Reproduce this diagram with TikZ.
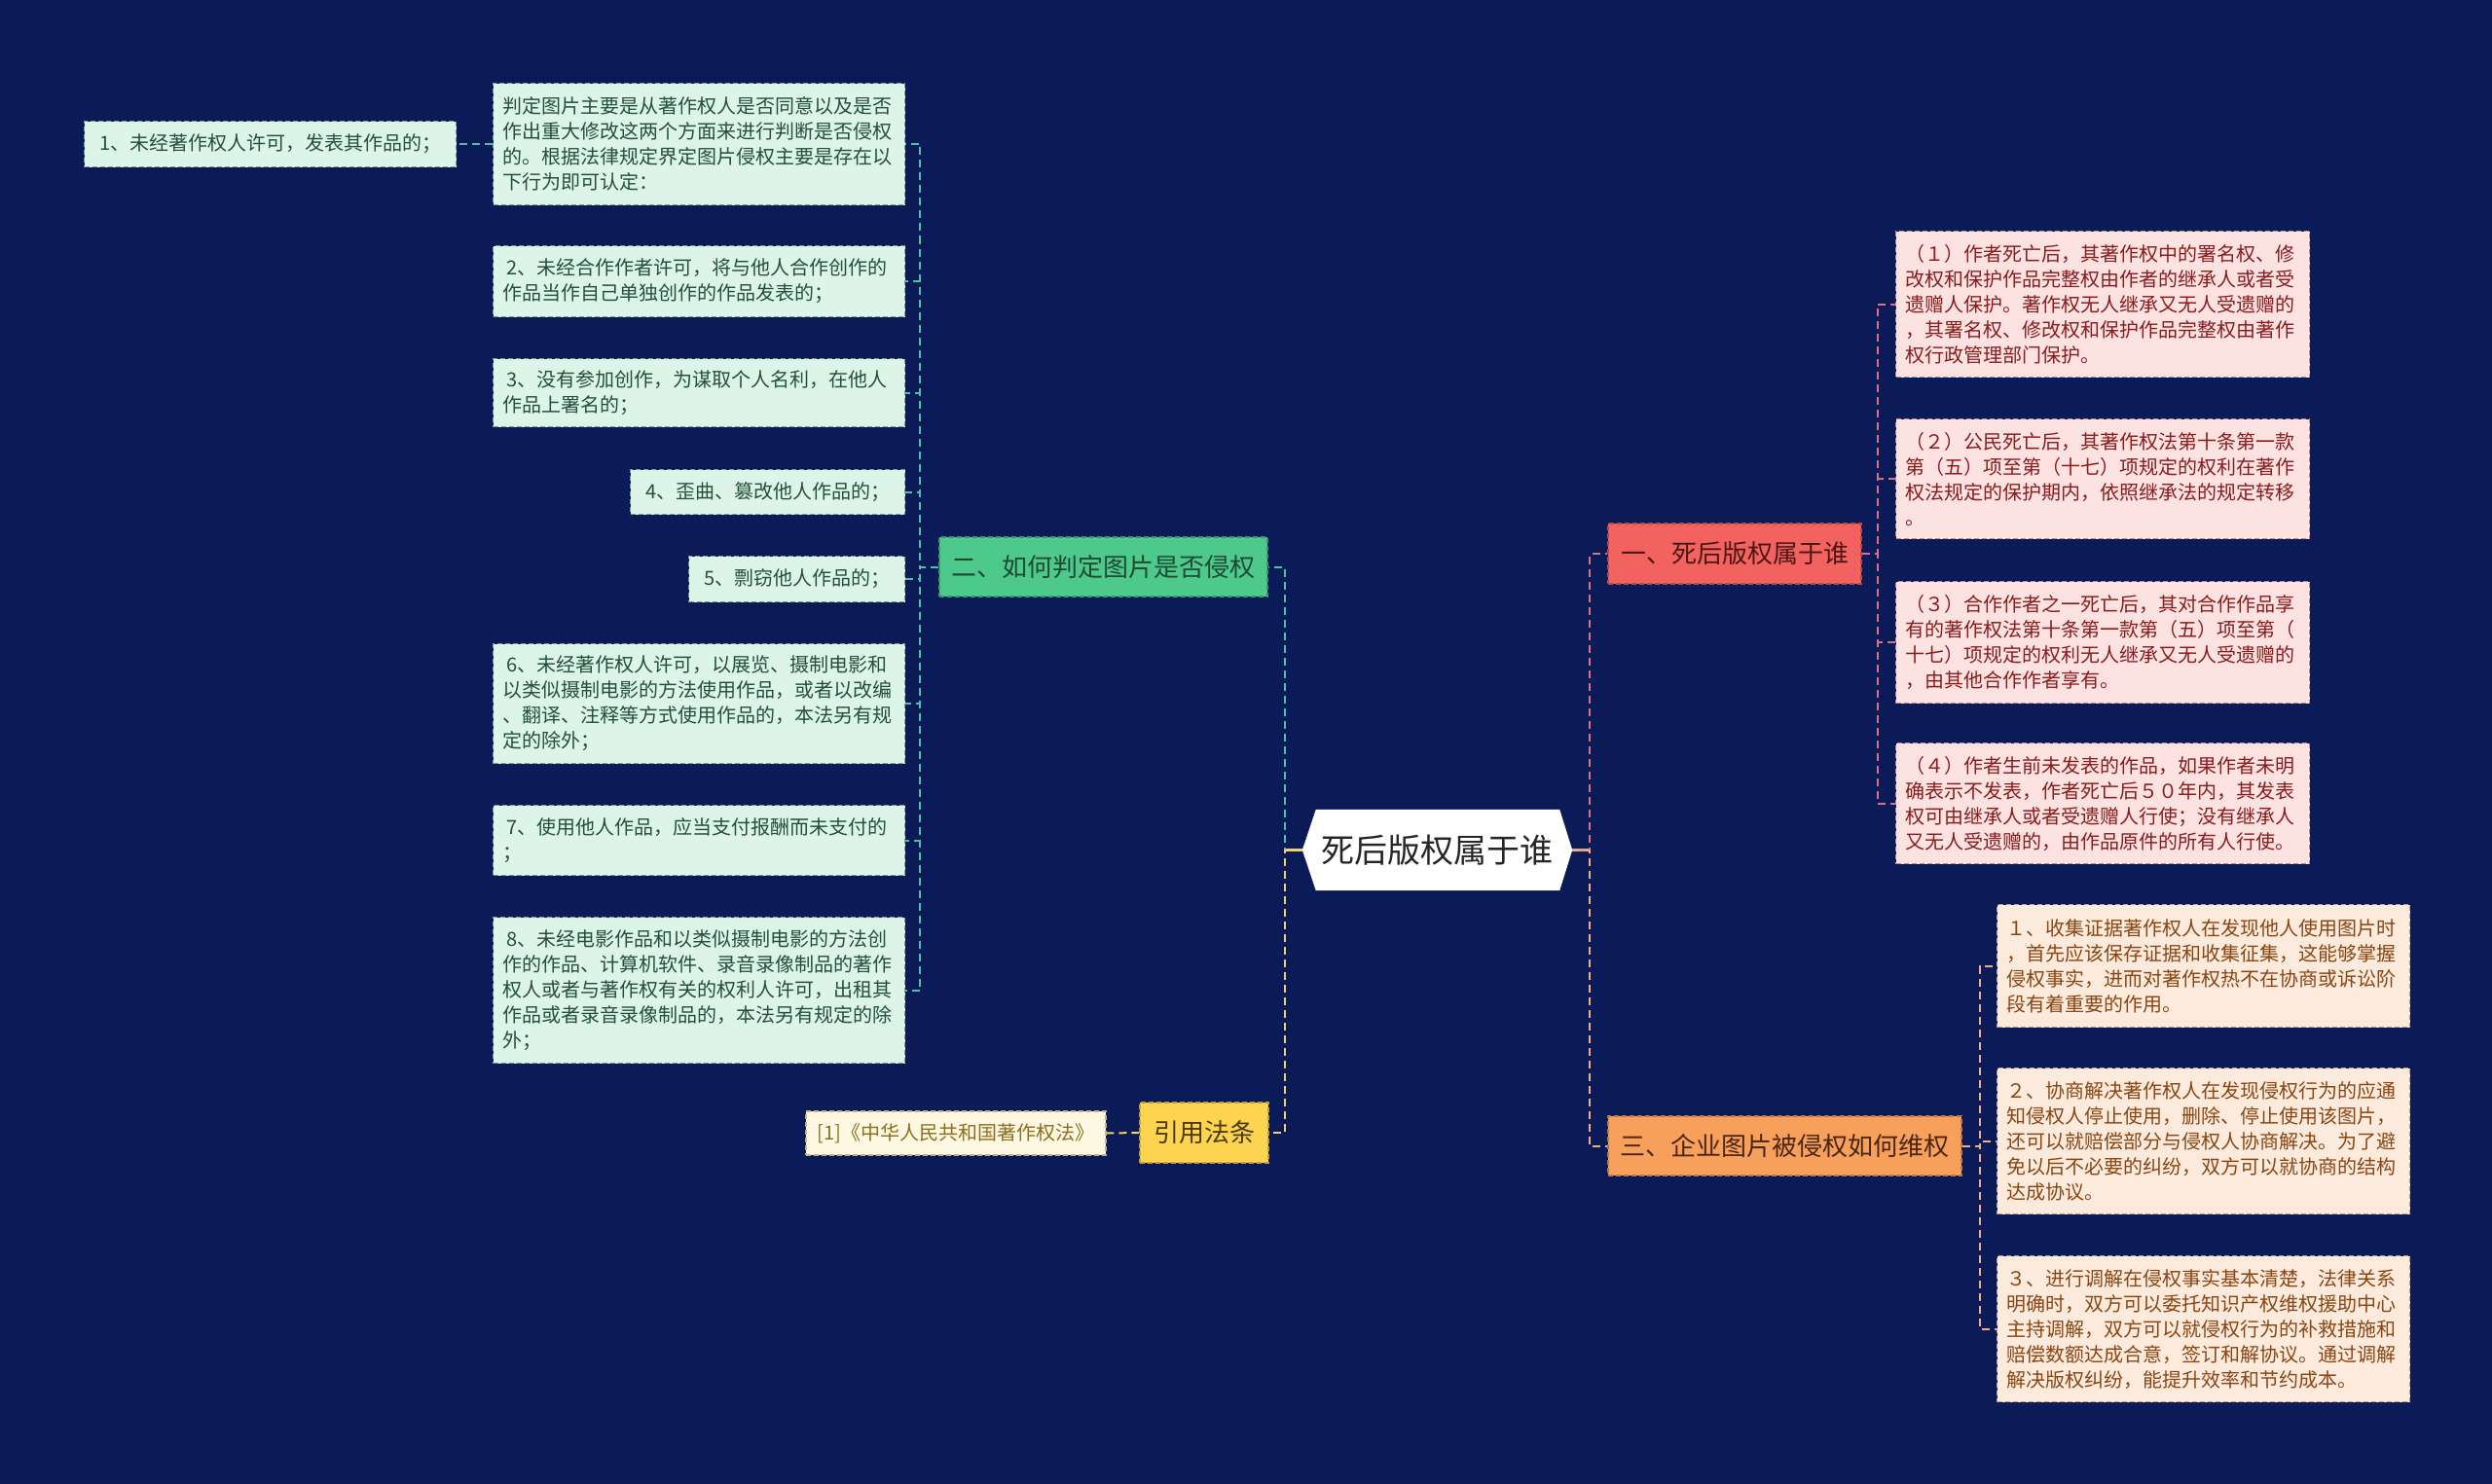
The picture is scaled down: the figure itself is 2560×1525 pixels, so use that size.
\documentclass[tikz,border=0pt]{standalone}
\usepackage{fontspec}
\setmainfont{Noto Sans CJK SC}
\usetikzlibrary{calc}
\definecolor{bg}{HTML}{0A1B57}
\definecolor{gfill}{HTML}{DDF5E9}
\definecolor{gtext}{HTML}{24503A}
\definecolor{gborder}{HTML}{7F9A90}
\definecolor{gnode}{HTML}{4DC98C}
\definecolor{gnodetext}{HTML}{1E4A33}
\definecolor{gline}{HTML}{4EC2A6}
\definecolor{rfill}{HTML}{FDE2E2}
\definecolor{rtext}{HTML}{8A1C1C}
\definecolor{rborder}{HTML}{B88C98}
\definecolor{rnode}{HTML}{F2625F}
\definecolor{rnodetext}{HTML}{4D1616}
\definecolor{rline}{HTML}{DC6E86}
\definecolor{ofill}{HTML}{FCEBDC}
\definecolor{otext}{HTML}{8A4512}
\definecolor{oborder}{HTML}{BF9C84}
\definecolor{onode}{HTML}{F7A05C}
\definecolor{onodetext}{HTML}{4A2610}
\definecolor{oline}{HTML}{F2AD84}
\definecolor{ynode}{HTML}{FDD44F}
\definecolor{ynodetext}{HTML}{4A3A0E}
\definecolor{yline}{HTML}{F3D068}
\definecolor{ffill}{HTML}{FEF8E2}
\definecolor{ftext}{HTML}{8B6E1E}
\definecolor{fborder}{HTML}{C2B388}
\begin{document}
\begin{tikzpicture}[x=1pt,y=-1pt,
  boxbase/.style={anchor=north west, inner xsep=10pt, inner ysep=0pt, align=left,
    font=\fontsize{20pt}{26pt}\selectfont, line width=1.2pt, dash pattern=on 5pt off 3pt, draw},
  gbox/.style={boxbase, fill=gfill, text=gtext, draw=gborder},
  rbox/.style={boxbase, fill=rfill, text=rtext, draw=rborder},
  obox/.style={boxbase, fill=ofill, text=otext, draw=oborder},
  branch/.style={anchor=center, inner sep=0pt, font=\fontsize{26pt}{30pt}\selectfont,
    line width=1.2pt, dash pattern=on 5pt off 3pt, draw},
  conn/.style={line width=2pt, dash pattern=on 8pt off 5pt},
  stub/.style={line width=2.5pt}
]
\fill[bg] (0,0) rectangle (2560,1525);
\useasboundingbox (0,0) rectangle (2560,1525);

% central node
\node[minimum width=277pt, minimum height=83pt, inner sep=0pt] (c) at (1476.5,873.5) {};
\fill[white] ([xshift=14pt]c.north west) -- ([xshift=-13pt]c.north east) -- (c.east)
  -- ([xshift=-13pt]c.south east) -- ([xshift=14pt]c.south west) -- (c.west) -- cycle;
\node[font=\fontsize{34pt}{40pt}\selectfont, text=black!85] (ct) at (c) {死后版权属于谁};

% branch nodes
\node[branch, fill=gnode, text=gnodetext, draw=gnode!75!black, minimum width=337pt, minimum height=61pt] (G) at (1133.5,582.5) {二、如何判定图片是否侵权};
\node[branch, fill=rnode, text=rnodetext, draw=rnode!75!black, minimum width=260pt, minimum height=62pt] (R) at (1782,569) {一、死后版权属于谁};
\node[branch, fill=onode, text=onodetext, draw=onode!75!black, minimum width=363pt, minimum height=61pt] (O) at (1833.5,1177.5) {三、企业图片被侵权如何维权};
\node[branch, fill=ynode, text=ynodetext, draw=ynode!75!black, minimum width=132pt, minimum height=62pt] (Y) at (1237,1164) {引用法条};
\node[branch, fill=ffill, text=ftext, draw=fborder, font=\fontsize{20pt}{24pt}\selectfont, minimum width=308pt, minimum height=45pt] (F) at (982,1164.5) {[1]《中华人民共和国著作权法》};

% green children
\node[gbox, text width=403pt, minimum height=125pt] (g0) at (506,85) {判定图片主要是从著作权人是否同意以及是否\\作出重大修改这两个方面来进行判断是否侵权\\的。根据法律规定界定图片侵权主要是存在以\\下行为即可认定：};
\node[gbox, text width=362pt, minimum height=47pt, align=center] (g1) at (86,124) {1、未经著作权人许可，发表其作品的；};
\node[gbox, text width=403pt, minimum height=73pt] (g2) at (506,252) {\hspace*{4pt}2、未经合作作者许可，将与他人合作创作的\\作品当作自己单独创作的作品发表的；};
\node[gbox, text width=403pt, minimum height=70pt] (g3) at (506,368) {\hspace*{4pt}3、没有参加创作，为谋取个人名利，在他人\\作品上署名的；};
\node[gbox, text width=262pt, minimum height=46pt, align=center] (g4) at (647,482) {4、歪曲、篡改他人作品的；};
\node[gbox, text width=202pt, minimum height=47pt, align=center] (g5) at (707,571) {5、剽窃他人作品的；};
\node[gbox, text width=403pt, minimum height=123pt] (g6) at (506,661) {\hspace*{4pt}6、未经著作权人许可，以展览、摄制电影和\\以类似摄制电影的方法使用作品，或者以改编\\、翻译、注释等方式使用作品的，本法另有规\\定的除外；};
\node[gbox, text width=403pt, minimum height=72pt] (g7) at (506,827) {\hspace*{4pt}7、使用他人作品，应当支付报酬而未支付的\\；};
\node[gbox, text width=403pt, minimum height=150pt] (g8) at (506,942) {\hspace*{4pt}8、未经电影作品和以类似摄制电影的方法创\\作的作品、计算机软件、录音录像制品的著作\\权人或者与著作权有关的权利人许可，出租其\\作品或者录音录像制品的，本法另有规定的除\\外；};

% red children
\node[rbox, text width=405pt, minimum height=150pt] (r1) at (1947,237) {（１）作者死亡后，其著作权中的署名权、修\\改权和保护作品完整权由作者的继承人或者受\\遗赠人保护。著作权无人继承又无人受遗赠的\\，其署名权、修改权和保护作品完整权由著作\\权行政管理部门保护。};
\node[rbox, text width=405pt, minimum height=123pt] (r2) at (1947,430) {（２）公民死亡后，其著作权法第十条第一款\\第（五）项至第（十七）项规定的权利在著作\\权法规定的保护期内，依照继承法的规定转移\\。};
\node[rbox, text width=405pt, minimum height=125pt] (r3) at (1947,597) {（３）合作作者之一死亡后，其对合作作品享\\有的著作权法第十条第一款第（五）项至第（\\十七）项规定的权利无人继承又无人受遗赠的\\，由其他合作作者享有。};
\node[rbox, text width=405pt, minimum height=124pt] (r4) at (1947,763) {（４）作者生前未发表的作品，如果作者未明\\确表示不发表，作者死亡后５０年内，其发表\\权可由继承人或者受遗赠人行使；没有继承人\\又无人受遗赠的，由作品原件的所有人行使。};

% orange children
\node[obox, text width=404pt, minimum height=126pt] (o1) at (2051,929) {１、收集证据著作权人在发现他人使用图片时\\，首先应该保存证据和收集征集，这能够掌握\\侵权事实，进而对著作权热不在协商或诉讼阶\\段有着重要的作用。};
\node[obox, text width=404pt, minimum height=150pt] (o2) at (2051,1097) {２、协商解决著作权人在发现侵权行为的应通\\知侵权人停止使用，删除、停止使用该图片，\\还可以就赔偿部分与侵权人协商解决。为了避\\免以后不必要的纠纷，双方可以就协商的结构\\达成协议。};
\node[obox, text width=404pt, minimum height=150pt] (o3) at (2051,1290) {３、进行调解在侵权事实基本清楚，法律关系\\明确时，双方可以委托知识产权维权援助中心\\主持调解，双方可以就侵权行为的补救措施和\\赔偿数额达成合意，签订和解协议。通过调解\\解决版权纠纷，能提升效率和节约成本。};

% connectors: main
\draw[stub, yline] (c.west) -- ++(-18,0);
\draw[stub, oline!70!rline] (c.east) -- ++(18,0);
\draw[conn, gline] (c.west) -- ++(-18,0) |- (G.east);
\draw[conn, yline] (c.west) -- ++(-18,0) |- (Y.east);
\draw[conn, rline] (c.east) -- ++(18,0) |- (R.west);
\draw[conn, oline] (c.east) -- ++(18,0) |- (O.west);

% green branch
\foreach \k in {g0,g2,g3,g4,g5,g6,g7,g8}
  \draw[conn, gline] (G.west) -- ++(-19,0) |- (\k.east);
\draw[conn, gline!80!gborder] (g0.west) -- (g1.east);

% red branch
\foreach \k in {r1,r2,r3,r4}
  \draw[conn, rline] (R.east) -- ++(16,0) |- (\k.west);

% orange branch
\foreach \k in {o1,o2,o3}
  \draw[conn, oline] (O.east) -- ++(18,0) |- (\k.west);

% yellow branch
\draw[conn, yline] (Y.west) -- (F.east);
\end{tikzpicture}
\end{document}
